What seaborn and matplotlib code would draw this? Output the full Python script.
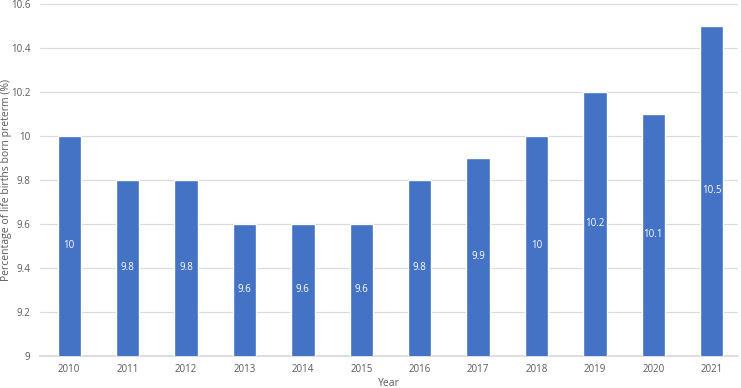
import matplotlib
matplotlib.use("Agg")
import matplotlib.pyplot as plt
import seaborn as sns
import pandas as pd

years = ["2010", "2011", "2012", "2013", "2014", "2015", "2016", "2017", "2018", "2019", "2020", "2021"]
values = [10, 9.8, 9.8, 9.6, 9.6, 9.6, 9.8, 9.9, 10, 10.2, 10.1, 10.5]
labels = ["10", "9.8", "9.8", "9.6", "9.6", "9.6", "9.8", "9.9", "10", "10.2", "10.1", "10.5"]
yticks = [9, 9.2, 9.4, 9.6, 9.8, 10, 10.2, 10.4, 10.6]
ytick_labels = ["9", "9.2", "9.4", "9.6", "9.8", "10", "10.2", "10.4", "10.6"]

sns.set_theme(style="white")
plt.rcParams['font.family'] = ['Open Sans', 'DejaVu Sans']

df = pd.DataFrame({"Year": years, "Value": values})

fig = plt.figure(figsize=(7.41, 3.88), dpi=100)
ax = fig.add_axes([40/741, 1 - 356/388, 698/741, 352.5/388])

sns.barplot(data=df, x="Year", y="Value", color="#4472C4", width=0.4,
            saturation=1, ax=ax, zorder=3)
ax.set_ylim(9, 10.6)
ax.set_xlim(-0.5, 11.45)
ax.set_yticks(yticks)
ax.set_yticklabels(ytick_labels)
ax.grid(axis="y", color="#D9D9D9", linewidth=0.8, zorder=0)
ax.set_axisbelow(True)
for s in ["top", "right", "left"]:
    ax.spines[s].set_visible(False)
ax.spines["bottom"].set_color("#D9D9D9")
ax.tick_params(axis="x", length=0, labelsize=7, colors="#595959", pad=6)
ax.tick_params(axis="y", length=0, labelsize=7, colors="#595959", pad=7)
ax.set_xlabel("Year", fontsize=7.5, color="#595959")
ax.set_ylabel("Percentage of life births born preterm (%)", fontsize=7.5, color="#595959")
ax.xaxis.set_label_coords(0.5, -27/352.5)
ax.yaxis.set_label_coords(-33/698, 0.5)
ax.xaxis.label.set_va("center")
ax.yaxis.label.set_va("center")

for i, (v, lab) in enumerate(zip(values, labels)):
    ax.text(i, (9 + v) / 2, lab, ha="center", va="center", color="white", fontsize=7)

fig.savefig("out.png", dpi=100)
